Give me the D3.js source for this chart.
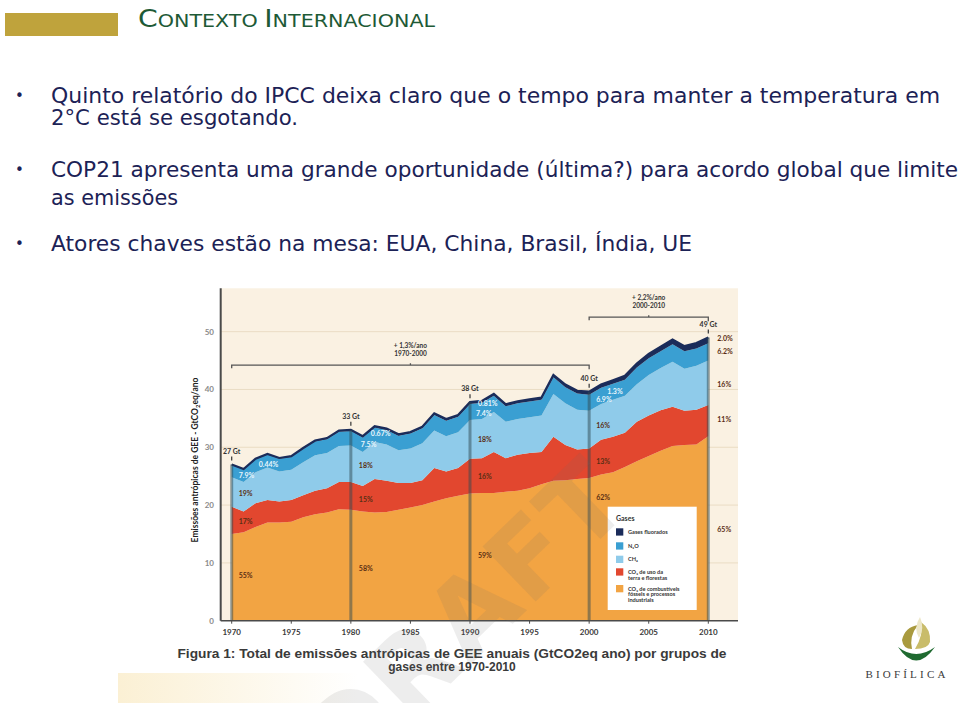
<!DOCTYPE html>
<html><head><meta charset="utf-8">
<script src="https://cdn.jsdelivr.net/npm/d3@7"></script>
<style>html,body{margin:0;padding:0;background:#fff;}svg{display:block;}</style>
</head><body>
<svg id="c" width="960" height="703"></svg>
<script>
// ---------- data ----------
const years = [1970,1971,1972,1973,1974,1975,1976,1977,1978,1979,1980,1981,1982,1983,1984,1985,1986,1987,1988,1989,1990,1991,1992,1993,1994,1995,1996,1997,1998,1999,2000,2001,2002,2003,2004,2005,2006,2007,2008,2009,2010];
const co2Fossil = [15.0,15.3,16.2,17.0,17.0,17.1,17.9,18.4,18.7,19.3, 19.2,18.9,18.7,18.8,19.2,19.6,20.0,20.6,21.2,21.6, 22.0,22.1,22.1,22.3,22.5,22.9,23.6,24.2,24.3,24.5, 24.7,25.3,25.7,26.6,27.6,28.5,29.4,30.2,30.4,30.5, 31.9];
const co2Folu   = [4.7,3.6,4.1,3.9,3.6,3.8,3.8,4.1,4.2,4.7, 4.8,4.4,5.8,5.4,4.6,4.2,4.3,5.8,4.6,4.8, 6.0,6.0,7.1,5.8,6.2,6.1,5.6,7.6,6.1,5.1, 5.1,6.0,6.1,5.9,6.8,7.0,7.0,6.8,5.9,6.0, 5.4];
const ch4       = [5.1,5.1,5.4,5.6,5.2,5.2,5.7,6.1,6.1,6.2, 6.3,5.9,6.4,6.3,5.7,6.0,6.4,6.5,6.1,6.2, 6.7,6.8,6.9,6.3,6.2,6.2,6.3,7.4,7.2,6.9, 6.5,6.2,6.4,6.4,6.5,7.0,7.3,7.8,7.3,7.6, 7.7];
const n2o       = [2.1,2.1,2.2,2.2,2.2,2.2,2.3,2.4,2.4,2.5, 2.5,2.5,2.5,2.5,2.5,2.6,2.6,2.7,2.7,2.7, 2.8,2.8,2.8,2.7,2.7,2.7,2.7,2.9,2.8,2.8, 2.8,2.8,2.8,2.8,2.9,2.9,2.9,3.0,3.0,3.0, 3.0];
const fGases    = [0.12,0.13,0.14,0.15,0.15,0.16,0.17,0.18,0.19,0.20, 0.22,0.22,0.23,0.23,0.24,0.25,0.26,0.27,0.28,0.29, 0.31,0.32,0.33,0.34,0.36,0.38,0.40,0.42,0.45,0.48, 0.52,0.55,0.60,0.65,0.70,0.75,0.80,0.85,0.90,0.93, 0.98];

const seriesKeys = ["co2Fossil","co2Folu","ch4","n2o","fGases"];
const seriesColors = ["#F2A443","#E2472F","#8FCBEA","#3A9FD2","#1B2C5A"];
const legendLabels = [["Gases fluorados"],["N₂O"],["CH₄"],["CO₂ de uso da","terra e florestas"],["CO₂ de combustíveis","fósseis e processos","industriais"]];

const yTicks = [0,10,20,30,40,50];
const xTicks = [1970,1975,1980,1985,1990,1995,2000,2005,2010];
const markYears = [1970,1980,1990,2000,2010];
const markLabels = ["27 Gt","33 Gt","38 Gt","40 Gt","49 Gt"];

// share labels: [year, dx, value(y), text, white?]
const shareLabels = [
 [1970,27,27.0,"0.44%",1],[1970,7,25.2,"7.9%",1],[1970,7,22.0,"19%",0],[1970,7,17.2,"17%",0],[1970,7,7.8,"55%",0],
 [1980,20,32.3,"0.67%",1],[1980,10,30.4,"7.5%",1],[1980,8,26.8,"18%",0],[1980,8,21.0,"15%",0],[1980,8,9.0,"58%",0],
 [1990,8,37.5,"0.81%",1],[1990,6,35.9,"7.4%",1],[1990,8,31.4,"18%",0],[1990,8,25.0,"16%",0],[1990,8,11.2,"59%",0],
 [2000,18,39.6,"1.3%",1],[2000,7,38.2,"6.9%",1],[2000,7,33.7,"16%",0],[2000,7,27.5,"13%",0],[2000,7,21.3,"62%",0],
 [2010,9,48.8,"2.0%",0],[2010,9,46.5,"6.2%",0],[2010,9,40.9,"16%",0],[2010,9,34.8,"11%",0],[2010,9,15.8,"65%",0]
];

const bullets = [
 ["Quinto relatório do IPCC deixa claro que o tempo para manter a temperatura em","2°C está se esgotando."],
 ["COP21 apresenta uma grande oportunidade (última?) para acordo global que limite","as emissões"],
 ["Atores chaves estão na mesa: EUA, China, Brasil, Índia, UE"]
];

// ---------- drawing ----------
const svg = d3.select("#c");
const navy = "#1c2256";

// faint cream strip at bottom-left of the figure image
const defs = svg.append("defs");
const gr = defs.append("linearGradient").attr("id","cream").attr("x1",0).attr("x2",1).attr("y1",0).attr("y2",0);
gr.append("stop").attr("offset","0%").attr("stop-color","#FBF0D4");
gr.append("stop").attr("offset","100%").attr("stop-color","#FFFFFF");
svg.append("rect").attr("x",118).attr("y",673).attr("width",240).attr("height",30).attr("fill","url(#cream)");

// header
svg.append("rect").attr("x",5).attr("y",13).attr("width",113).attr("height",23).attr("fill","#BFA33C");
const ttl = svg.append("text").attr("x",138).attr("y",27).attr("fill","#1E5A36")
  .attr("font-family","DejaVu Sans").attr("textLength",297).attr("lengthAdjust","spacingAndGlyphs");
[["C",24],["ONTEXTO ",17.5],["I",24],["NTERNACIONAL",17.5]].forEach(([t,s])=>ttl.append("tspan").attr("font-size",s).text(t));

// bullets
const bulletY = [[103,125],[177,205],[251]];
const lineW = [[889,247],[907,127],[641]];
bullets.forEach((b,i)=>{
  svg.append("text").attr("x",15).attr("y",bulletY[i][0]-2).attr("font-family","DejaVu Sans").attr("font-size",15).attr("fill",navy).text("•");
  b.forEach((ln,j)=>{
    svg.append("text").attr("x",51).attr("y",bulletY[i][j]).attr("font-family","DejaVu Sans").attr("font-size",20.5)
      .attr("fill",navy).attr("textLength",lineW[i][j]).attr("lengthAdjust","spacingAndGlyphs").text(ln);
  });
});

// chart scales
const x = d3.scaleLinear().domain([1970,2010]).range([231.7,708.3]);
const y = d3.scaleLinear().domain([0,57.5]).range([620.7,288.3]);
const plotL = 220.7, plotR = 738;

const g = svg.append("g").attr("font-family","Lato");
// background
g.append("rect").attr("x",plotL).attr("y",y(57.5)).attr("width",plotR-plotL).attr("height",y(0)-y(57.5)).attr("fill","#FAF1E2");
// grid
g.selectAll("line.grid").data(yTicks.slice(1)).join("line").attr("x1",plotL).attr("x2",plotR)
  .attr("y1",d=>y(d)).attr("y2",d=>y(d)).attr("stroke","#EADCC4").attr("stroke-width",1);

// stacked areas
const rows = years.map((yr,i)=>({year:yr,co2Fossil:co2Fossil[i],co2Folu:co2Folu[i],ch4:ch4[i],n2o:n2o[i],fGases:fGases[i]}));
const stack = d3.stack().keys(seriesKeys)(rows);
const area = d3.area().x(d=>x(d.data.year)).y0(d=>y(d[0])).y1(d=>y(d[1]));
g.selectAll("path.layer").data(stack).join("path").attr("d",area).attr("fill",(d,i)=>seriesColors[i]);
const topLayer = stack[stack.length-1];
g.append("path").attr("d",d3.line().x(d=>x(d.data.year)).y(d=>y(d[1]))(topLayer)).attr("fill","none")
  .attr("stroke","#1B2C5A").attr("stroke-width",2.2);

// vertical year lines + Gt marks
const totalAt = yr => topLayer.find(d=>d.data.year===yr)[1];
markYears.forEach((yr,i)=>{
  g.append("line").attr("x1",x(yr)).attr("x2",x(yr)).attr("y1",y(0)).attr("y2",y(totalAt(yr)))
    .attr("stroke","#2f4a52").attr("stroke-opacity",0.5).attr("stroke-width",3);
  g.append("line").attr("x1",x(yr)).attr("x2",x(yr)).attr("y1",y(totalAt(yr))-4).attr("y2",y(totalAt(yr))-8)
    .attr("stroke","#333").attr("stroke-width",1.2);
  g.append("text").attr("x",x(yr)).attr("y",y(totalAt(yr))-11).attr("text-anchor","middle")
    .attr("font-size",7).attr("font-weight","bold").attr("fill","#333").text(markLabels[i]);
});

// share labels
shareLabels.forEach(([yr,dx,v,t,w])=>{
  g.append("text").attr("x",x(yr)+dx).attr("y",y(v)+2.5).attr("font-size",7).attr("font-weight","bold")
    .attr("fill",w?"#EAF6FC":"#5A2E14").text(t);
});

// brackets
function bracket(a,b,v,t1,t2){
  const yy=y(v), xa=x(a), xb=x(b), xm=(xa+xb)/2;
  g.append("path").attr("d",`M${xa},${yy+3}V${yy}H${xb}V${yy+4}M${xm},${yy}V${yy-2}`).attr("fill","none")
    .attr("stroke","#555").attr("stroke-width",1.3);
  g.append("text").attr("x",xm).attr("y",yy-17).attr("text-anchor","middle").attr("font-size",6.5).attr("font-weight","bold").attr("fill","#333").text(t1);
  g.append("text").attr("x",xm).attr("y",yy-9).attr("text-anchor","middle").attr("font-size",6.5).attr("font-weight","bold").attr("fill","#333").text(t2);
}
bracket(1970,2000,44.2,"+ 1,3%/ano","1970-2000");
bracket(2000,2010,52.5,"+ 2,2%/ano","2000-2010");

// axes
g.append("line").attr("x1",plotL).attr("x2",plotL).attr("y1",y(57.5)).attr("y2",y(0)).attr("stroke","#4a4a4a").attr("stroke-width",2);
g.append("line").attr("x1",plotL).attr("x2",plotR).attr("y1",y(0)).attr("y2",y(0)).attr("stroke","#4a4a4a").attr("stroke-width",1.5);
g.selectAll("text.yt").data(yTicks).join("text").attr("x",214).attr("y",d=>y(d)+3).attr("text-anchor","end")
  .attr("font-size",8).attr("font-weight","bold").attr("fill","#8a8a8a").text(d=>d);
g.selectAll("line.xt").data(xTicks).join("line").attr("x1",d=>x(d)).attr("x2",d=>x(d)).attr("y1",y(0)).attr("y2",y(0)+3).attr("stroke","#4a4a4a");
g.selectAll("text.xt").data(xTicks).join("text").attr("x",d=>x(d)).attr("y",635).attr("text-anchor","middle")
  .attr("font-size",8).attr("font-weight","bold").attr("fill","#3a3a3a").text(d=>d);
const yl = g.append("text").attr("transform","translate(198,460) rotate(-90)").attr("text-anchor","middle")
  .attr("font-size",8.5).attr("font-weight","bold").attr("fill","#222");
yl.append("tspan").text("Emissões antrópicas de GEE - GtCO");
yl.append("tspan").attr("font-size",6).attr("dy",2).text("2");
yl.append("tspan").attr("dy",-2).text("eq/ano");

// legend
const lg = g.append("g");
lg.append("rect").attr("x",607.7).attr("y",506.7).attr("width",89).attr("height",103.3).attr("fill","#fff");
lg.append("text").attr("x",616).attr("y",521).attr("font-size",7).attr("font-weight","bold").attr("fill","#333").text("Gases");
const legRows = [[4,528.3],[3,542.3],[2,555.7],[1,568.3],[0,585]];
legRows.forEach(([si,yy],k)=>{
  lg.append("rect").attr("x",616).attr("y",yy).attr("width",7.3).attr("height",7.3).attr("fill",seriesColors[si]);
  legendLabels[k].forEach((t,j)=>lg.append("text").attr("x",628).attr("y",yy+5.5+j*5.8).attr("font-size",5.6)
    .attr("font-weight","bold").attr("fill","#333").text(t));
});

// caption
svg.append("text").attr("x",452).attr("y",658).attr("text-anchor","middle").attr("font-family","Liberation Sans")
  .attr("font-weight","bold").attr("font-size",12).attr("fill","#3a3a3a").attr("textLength",549).attr("lengthAdjust","spacingAndGlyphs")
  .text("Figura 1: Total de emissões antrópicas de GEE anuais (GtCO2eq ano) por grupos de");
svg.append("text").attr("x",452).attr("y",671).attr("text-anchor","middle").attr("font-family","Liberation Sans")
  .attr("font-weight","bold").attr("font-size",12).attr("fill","#3a3a3a").text("gases entre 1970-2010");

// watermark
svg.append("text").attr("transform","translate(470,625) rotate(-44)").attr("text-anchor","middle")
  .attr("font-family","DejaVu Sans").attr("font-weight","bold").attr("font-size",105).attr("letter-spacing",2).attr("fill","#6b6b6b").attr("fill-opacity",0.12)
  .attr("dominant-baseline","middle").text("DRAFT");

// logo
const lo = svg.append("g");
lo.append("path").attr("d","M898,647 Q916,674 935,647 Q916,661 898,647Z").attr("fill","#1F6A30");
lo.append("path").attr("d","M902,640 Q905,627 918,625 Q909,636 912,649 Q903,649 902,640Z").attr("fill","#A99A3E");
lo.append("path").attr("d","M930,642 Q931,629 921,622 Q924,634 915,649 Q928,649 930,642Z").attr("fill","#C9BC6A");
lo.append("path").attr("d","M919,638 Q913,628 920,617 Q925,628 919,638Z").attr("fill","#EDE7C8");
lo.append("text").attr("x",907).attr("y",678).attr("text-anchor","middle").attr("font-family","Liberation Serif")
  .attr("font-size",11).attr("letter-spacing",3.2).attr("fill","#3a3a3a").text("BIOFÍLICA");
</script>
</body></html>
